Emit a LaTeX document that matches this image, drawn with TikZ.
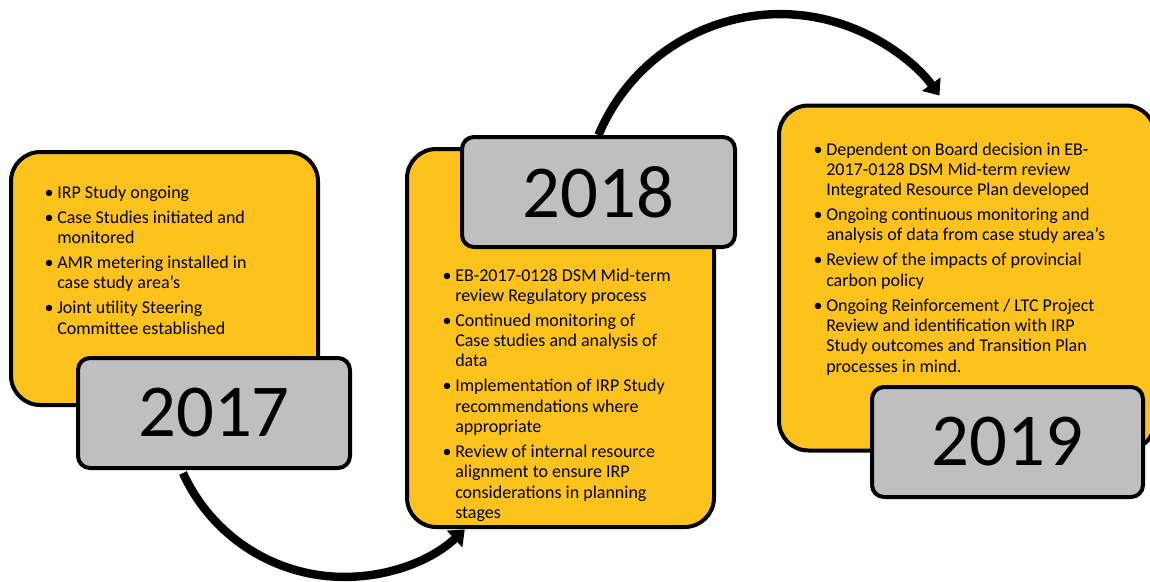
\documentclass[tikz,border=0pt]{standalone}
\usepackage{fontspec}
\setmainfont{Carlito}
\usetikzlibrary{arrows.meta}
\definecolor{gold}{HTML}{FDC21B}
\definecolor{slate}{HTML}{BFBFBF}
\newlength\yind
\setlength\yind{7.5pt}
% bullet item with hanging indent; lines are broken by hand with \\
\newcommand\yitem{\par\hangindent=\yind\hangafter=1\noindent\makebox[\yind][l]{\hspace{-2pt}\textbullet}}
% a bullet list set in a top-aligned box of the given width
\newenvironment{ylist}[1]{\begin{minipage}[t]{#1}%
  \fontsize{13.5}{15.2}\selectfont\setlength\parskip{3.6pt}}{\par\end{minipage}}

\begin{document}
\begin{tikzpicture}[x=0.75pt,y=-0.75pt,
  phase/.style={draw=black, line width=3pt, fill=gold, rounded corners=22pt, inner sep=0pt},
  yearbox/.style={draw=black, line width=3pt, fill=slate, rounded corners=9pt, inner sep=0pt,
    font=\fontsize{56}{60}\selectfont, minimum height=82.5pt},
  notes/.style={anchor=base west, inner sep=0pt},
  flow/.style={line width=6.3pt, -{Triangle[length=10.5pt,width=16.5pt]}}
]
\clip (0,0) rectangle (1150,582);

% ---- 2017 ----
\node[phase, minimum width=230.25pt, minimum height=189.75pt] (y2017) at (164.5,278.5) {};
\node[yearbox, minimum width=204pt] (g2017) at (214,413) {2017};
\node[notes] (l2017) at (47,198) {\begin{ylist}{250pt}%
  \yitem IRP Study ongoing
  \yitem Case Studies initiated and\\ monitored
  \yitem AMR metering installed in\\ case study area’s
  \yitem Joint utility Steering\\ Committee established
  \end{ylist}};

% ---- 2018 ----
\node[phase, minimum width=230.25pt, minimum height=283.5pt] (y2018) at (560.5,338) {};
\node[yearbox, minimum width=204.75pt] (g2018) at (598.5,192) {2018};
\node[notes] (l2018) at (445,281) {\begin{ylist}{250pt}%
  \yitem EB-2017-0128 DSM Mid-term\\ review Regulatory process
  \yitem Continued monitoring of\\ Case studies and analysis of\\ data
  \yitem Implementation of IRP Study\\ recommendations where\\ appropriate
  \yitem Review of internal resource\\ alignment to ensure IRP\\ considerations in planning\\ stages
  \end{ylist}};

% ---- 2019 ----
\node[phase, minimum width=282pt, minimum height=258.75pt] (y2019) at (967,278) {};
\node[yearbox, minimum width=203.25pt] (g2019) at (1007.5,442) {2019};
\node[notes] (l2019) at (816,155) {\begin{ylist}{300pt}%
  \yitem Dependent on Board decision in EB-\\ 2017-0128 DSM Mid-term review\\ Integrated Resource Plan developed
  \yitem Ongoing continuous monitoring and\\ analysis of data from case study area's
  \yitem Review of the impacts of provincial\\ carbon policy
  \yitem Ongoing Reinforcement / LTC Project\\ Review and identification with IRP\\ Study outcomes and Transition Plan\\ processes in mind.
  \end{ylist}};

% ---- curved arrows between the years ----
\coordinate (s1) at ([xshift=-23.25pt,yshift=-2.25pt]g2017.south);
\draw[flow] (s1) arc[start angle=155.6, end angle=47.05, radius=177];
\draw[flow] (g2018.north) arc[start angle=-157.3, end angle=-35.9, radius=196.8];
\end{tikzpicture}
\end{document}
